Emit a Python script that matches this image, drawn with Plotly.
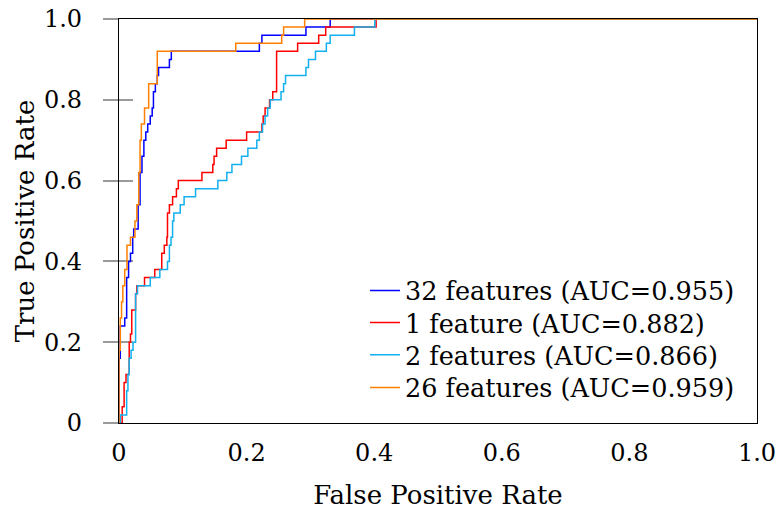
import plotly.graph_objects as go

# ROC step corners (FPR, TPR)
fpr_32 = [0, 0, 0.002, 0.009, 0.012, 0.015, 0.018, 0.0215, 0.023, 0.030, 0.033, 0.036, 0.039, 0.042,
          0.045, 0.049, 0.052, 0.054, 0.057, 0.060, 0.062, 0.079, 0.082, 0.220, 0.224, 0.293, 0.331, 1.0]
tpr_32 = [0, 0.16, 0.24, 0.26, 0.36, 0.40, 0.42, 0.46, 0.48, 0.54, 0.62, 0.66, 0.70, 0.72,
          0.74, 0.76, 0.78, 0.82, 0.84, 0.86, 0.88, 0.90, 0.92, 0.94, 0.96, 0.98, 1.0, 1.0]

fpr_1 = [0, 0.005, 0.008, 0.011, 0.016, 0.018, 0.020, 0.026, 0.028, 0.040, 0.056, 0.067, 0.071, 0.075,
         0.076, 0.079, 0.084, 0.090, 0.093, 0.130, 0.147, 0.149, 0.153, 0.168, 0.200, 0.224, 0.226,
         0.229, 0.236, 0.241, 0.247, 0.280, 0.313, 0.324, 0.403, 1.0]
tpr_1 = [0, 0.04, 0.10, 0.12, 0.20, 0.22, 0.28, 0.32, 0.34, 0.36, 0.38, 0.42, 0.44, 0.46,
         0.52, 0.54, 0.56, 0.58, 0.60, 0.62, 0.64, 0.66, 0.68, 0.70, 0.72, 0.74, 0.76,
         0.78, 0.80, 0.82, 0.92, 0.94, 0.96, 0.98, 1.0, 1.0]

fpr_2 = [0, 0.002, 0.012, 0.014, 0.016, 0.019, 0.022, 0.026, 0.029, 0.049, 0.064, 0.076, 0.079, 0.0815,
         0.084, 0.086, 0.096, 0.102, 0.120, 0.155, 0.169, 0.177, 0.192, 0.202, 0.216, 0.220, 0.225,
         0.229, 0.233, 0.237, 0.254, 0.258, 0.261, 0.293, 0.297, 0.308, 0.325, 0.331, 0.369, 0.401, 1.0]
tpr_2 = [0, 0.02, 0.08, 0.12, 0.16, 0.18, 0.20, 0.32, 0.34, 0.36, 0.38, 0.40, 0.44, 0.46,
         0.50, 0.52, 0.54, 0.56, 0.58, 0.60, 0.62, 0.64, 0.66, 0.68, 0.70, 0.72, 0.74,
         0.76, 0.78, 0.80, 0.82, 0.84, 0.86, 0.88, 0.90, 0.92, 0.94, 0.96, 0.98, 1.0, 1.0]

fpr_26 = [0, 0, 0.002, 0.004, 0.006, 0.009, 0.0125, 0.018, 0.025, 0.028, 0.031, 0.033, 0.035, 0.040,
          0.0465, 0.060, 0.183, 0.255, 0.258, 0.291, 1.0]
tpr_26 = [0, 0.18, 0.26, 0.30, 0.34, 0.38, 0.44, 0.46, 0.50, 0.54, 0.62, 0.70, 0.74, 0.78,
          0.84, 0.92, 0.94, 0.96, 0.98, 1.0, 1.0]

series_names = ["32 features (AUC=0.955)", "1 feature (AUC=0.882)",
                "2 features (AUC=0.866)", "26 features (AUC=0.959)"]
series_colors = ["#0000ff", "#ff0000", "#12b0ee", "#ff8000"]
series_x = [fpr_32, fpr_1, fpr_2, fpr_26]
series_y = [tpr_32, tpr_1, tpr_2, tpr_26]

tick_vals = [0, 0.2, 0.4, 0.6, 0.8, 1.0]
tick_text = ["0", "0.2", "0.4", "0.6", "0.8", "1.0"]

FONT = "DejaVu Serif"
legend_ids = ["legend", "legend2", "legend3", "legend4"]
legend_rows = [0.327, 0.2475, 0.168, 0.087]

fig = go.Figure()
for name, col, xs, ys, lg in zip(series_names, series_colors, series_x, series_y, legend_ids):
    fig.add_trace(go.Scatter(x=xs, y=ys, mode="lines", name=name, legend=lg,
                             line=dict(color=col, width=1.5, shape="hv"),
                             cliponaxis=False))

legend_style = dict(xanchor="left", yanchor="middle", bgcolor="rgba(255,255,255,0)",
                    borderwidth=0, font=dict(family=FONT, size=25.5))
legends = {lg: dict(x=0.3856, y=ry, **legend_style) for lg, ry in zip(legend_ids, legend_rows)}

fig.update_layout(
    width=777, height=510,
    margin=dict(l=119, r=20, t=19, b=87, autoexpand=False),
    paper_bgcolor="white", plot_bgcolor="white",
    font=dict(family=FONT, size=24, color="black"),
    showlegend=True,
    xaxis=dict(range=[0, 1], tickvals=tick_vals, ticktext=tick_text, automargin=False,
               showgrid=False, zeroline=False, showline=True, mirror=True,
               linecolor="black", linewidth=1.2, ticks="", ticklabelstandoff=8,
               ticklabeloverflow="allow", layer="below traces",
               title=dict(text="False Positive Rate", standoff=24,
                          font=dict(family=FONT, size=26))),
    yaxis=dict(range=[0, 1], tickvals=tick_vals, ticktext=tick_text, automargin=False,
               showgrid=False, zeroline=False, showline=True, mirror=True,
               linecolor="black", linewidth=1.2, ticks="outside", ticklen=15,
               tickwidth=1.5, tickcolor="#9a9a9a", ticklabelstandoff=16,
               ticklabeloverflow="allow", layer="below traces",
               title=dict(text="True Positive Rate", standoff=1,
                          font=dict(family=FONT, size=26))),
    yaxis2=dict(range=[0, 1], tickvals=tick_vals, overlaying="y", side="left", automargin=False,
                showticklabels=False, showgrid=False, zeroline=False, showline=False,
                ticks="inside", ticklen=14, tickwidth=1.5, tickcolor="#9a9a9a",
                layer="below traces"),
    **legends,
)

# invisible trace to activate the inner tick axis
fig.add_trace(go.Scatter(x=[None], y=[None], yaxis="y2", showlegend=False, hoverinfo="skip"))

fig.write_html("out.html",
               config={"displayModeBar": False},
               post_script="document.body.style.margin='0px';document.body.style.overflow='hidden';")
